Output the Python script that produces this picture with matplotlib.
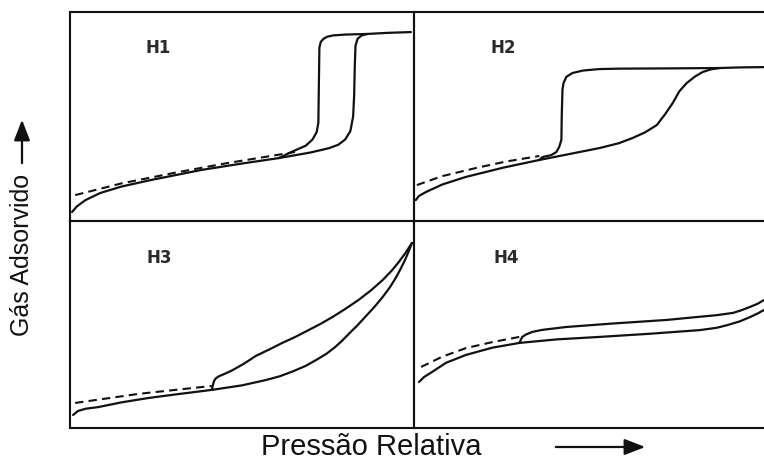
import numpy as np
import matplotlib.pyplot as plt
from matplotlib.patches import FancyArrowPatch

plt.rcParams['font.family'] = ['Liberation Sans', 'DejaVu Sans']

# curves, in panel fractions (x: 0..1 left->right, y: 0..1 bottom->top)
h1_ads_x = [0.006, 0.02, 0.045, 0.088, 0.15, 0.235, 0.381, 0.5, 0.607, 0.7, 0.754, 0.78, 0.80, 0.815, 0.823, 0.826, 0.828, 0.830, 0.836, 0.848, 0.865, 0.92, 0.991]
h1_ads_y = [0.043, 0.07, 0.10, 0.134, 0.165, 0.196, 0.244, 0.275, 0.301, 0.328, 0.349, 0.365, 0.39, 0.43, 0.5, 0.6, 0.75, 0.84, 0.872, 0.888, 0.895, 0.9, 0.904]
h1_des_x = [0.865, 0.80, 0.765, 0.748, 0.737, 0.729, 0.725, 0.723, 0.722, 0.717, 0.705, 0.685, 0.65, 0.607]
h1_des_y = [0.895, 0.892, 0.888, 0.882, 0.872, 0.857, 0.83, 0.6, 0.47, 0.425, 0.39, 0.36, 0.335, 0.301]
h1_dash_x = [0.015, 0.15, 0.302, 0.45, 0.654]
h1_dash_y = [0.124, 0.18, 0.230, 0.275, 0.330]

h2_ads_x = [0.005, 0.014, 0.034, 0.08, 0.146, 0.25, 0.352, 0.45, 0.521, 0.575, 0.614, 0.65, 0.682, 0.705, 0.727, 0.745, 0.766, 0.79, 0.811, 0.835, 0.859, 0.92, 1.02]
h2_ads_y = [0.100, 0.12, 0.139, 0.175, 0.211, 0.255, 0.292, 0.325, 0.349, 0.372, 0.397, 0.425, 0.459, 0.51, 0.565, 0.62, 0.660, 0.692, 0.713, 0.726, 0.732, 0.735, 0.737]
h2_des_x = [0.859, 0.70, 0.58, 0.521, 0.475, 0.445, 0.428, 0.420, 0.417, 0.415, 0.414, 0.408, 0.400, 0.385, 0.361, 0.352]
h2_des_y = [0.732, 0.730, 0.729, 0.727, 0.72, 0.708, 0.69, 0.66, 0.627, 0.5, 0.388, 0.355, 0.330, 0.315, 0.306, 0.292]
h2_dash_x = [0.008, 0.08, 0.175, 0.26, 0.352]
h2_dash_y = [0.172, 0.215, 0.254, 0.285, 0.311]

h3_ads_x = [0.009, 0.023, 0.045, 0.082, 0.15, 0.228, 0.32, 0.412, 0.5, 0.570, 0.61, 0.65, 0.685, 0.716, 0.745, 0.77, 0.79, 0.813, 0.835, 0.86, 0.885, 0.909, 0.93, 0.945, 0.96, 0.974, 0.985, 0.994]
h3_ads_y = [0.063, 0.082, 0.093, 0.101, 0.124, 0.145, 0.165, 0.184, 0.206, 0.232, 0.25, 0.275, 0.30, 0.329, 0.358, 0.39, 0.42, 0.459, 0.495, 0.54, 0.585, 0.633, 0.68, 0.72, 0.765, 0.812, 0.855, 0.894]
h3_des_x = [0.994, 0.975, 0.955, 0.935, 0.909, 0.875, 0.84, 0.80, 0.763, 0.725, 0.69, 0.655, 0.617, 0.58, 0.54, 0.505, 0.471, 0.45, 0.433, 0.424, 0.419, 0.415, 0.412]
h3_des_y = [0.894, 0.845, 0.80, 0.76, 0.715, 0.665, 0.62, 0.575, 0.536, 0.50, 0.47, 0.44, 0.411, 0.38, 0.348, 0.31, 0.278, 0.262, 0.250, 0.24, 0.228, 0.205, 0.184]
h3_dash_x = [0.015, 0.2, 0.412]
h3_dash_y = [0.121, 0.165, 0.203]

h4_ads_x = [0.014, 0.028, 0.051, 0.09, 0.146, 0.22, 0.296, 0.4, 0.521, 0.66, 0.803, 0.85, 0.88, 0.915, 0.944, 0.965, 0.983, 1.02]
h4_ads_y = [0.222, 0.246, 0.271, 0.315, 0.353, 0.388, 0.411, 0.428, 0.440, 0.455, 0.473, 0.484, 0.497, 0.515, 0.536, 0.553, 0.570, 0.60]
h4_des_x = [1.02, 0.983, 0.965, 0.944, 0.92, 0.896, 0.85, 0.80, 0.710, 0.56, 0.428, 0.36, 0.332, 0.315, 0.304, 0.296]
h4_des_y = [0.64, 0.618, 0.60, 0.585, 0.569, 0.556, 0.545, 0.537, 0.522, 0.505, 0.488, 0.474, 0.464, 0.452, 0.440, 0.411]
h4_dash_x = [0.020, 0.08, 0.146, 0.22, 0.296]
h4_dash_y = [0.295, 0.345, 0.386, 0.415, 0.440]

labels = ['H1', 'H2', 'H3', 'H4']
label_pos = [(0.255, 0.83), (0.25, 0.83), (0.26, 0.82), (0.26, 0.82)]

panels = [
    (h1_ads_x, h1_ads_y, h1_des_x, h1_des_y, h1_dash_x, h1_dash_y),
    (h2_ads_x, h2_ads_y, h2_des_x, h2_des_y, h2_dash_x, h2_dash_y),
    (h3_ads_x, h3_ads_y, h3_des_x, h3_des_y, h3_dash_x, h3_dash_y),
    (h4_ads_x, h4_ads_y, h4_des_x, h4_des_y, h4_dash_x, h4_dash_y),
]

W, H = 764, 463
fig = plt.figure(figsize=(W / 100, H / 100), dpi=100)

# panel boxes in pixels: left, top, right, bottom
boxes = [(70, 12, 414, 221), (414, 12, 770, 221),
         (70, 221, 414, 428), (414, 221, 770, 428)]

ink = '#111111'
for (l, t, r, b), data, lab, lp in zip(boxes, panels, labels, label_pos):
    ax = fig.add_axes([l / W, (H - b) / H, (r - l) / W, (b - t) / H])
    ax.set_xlim(0, 1)
    ax.set_ylim(0, 1)
    ax.set_xticks([])
    ax.set_yticks([])
    for s in ax.spines.values():
        s.set_linewidth(1.5)
        s.set_color(ink)
    ax.patch.set_alpha(0)
    ax.plot(data[0], data[1], color=ink, lw=1.6, solid_joinstyle='round', solid_capstyle='round')
    ax.plot(data[2], data[3], color=ink, lw=1.6, solid_joinstyle='round', solid_capstyle='round')
    ax.plot(data[4], data[5], color=ink, lw=1.5, linestyle=(0, (4, 2.5)))
    ax.text(lp[0], lp[1], lab, transform=ax.transAxes, fontsize=12, fontweight='bold',
            family='DejaVu Sans', color='#2a2a2a', ha='center', va='center')

# axis titles with arrows
fig.text(22 / W, 1 - 255 / H, 'Gás Adsorvido', rotation=90, fontsize=18,
         ha='center', va='center', color=ink)
fig.text(371 / W, 1 - 461 / H, 'Pressão Relativa', fontsize=21,
         ha='center', va='bottom', color=ink)

arrow_props = dict(arrowstyle='-|>,head_length=0.9,head_width=0.35', color=ink, lw=1.6)
fig.add_artist(FancyArrowPatch(
    (22 / W, 1 - 166 / H), (22 / W, 1 - 117 / H), transform=fig.transFigure,
    mutation_scale=14, **arrow_props))
fig.add_artist(FancyArrowPatch(
    (553 / W, 1 - 447 / H), (648 / W, 1 - 447 / H), transform=fig.transFigure,
    mutation_scale=14, **arrow_props))

fig.savefig('out.png', dpi=100)
